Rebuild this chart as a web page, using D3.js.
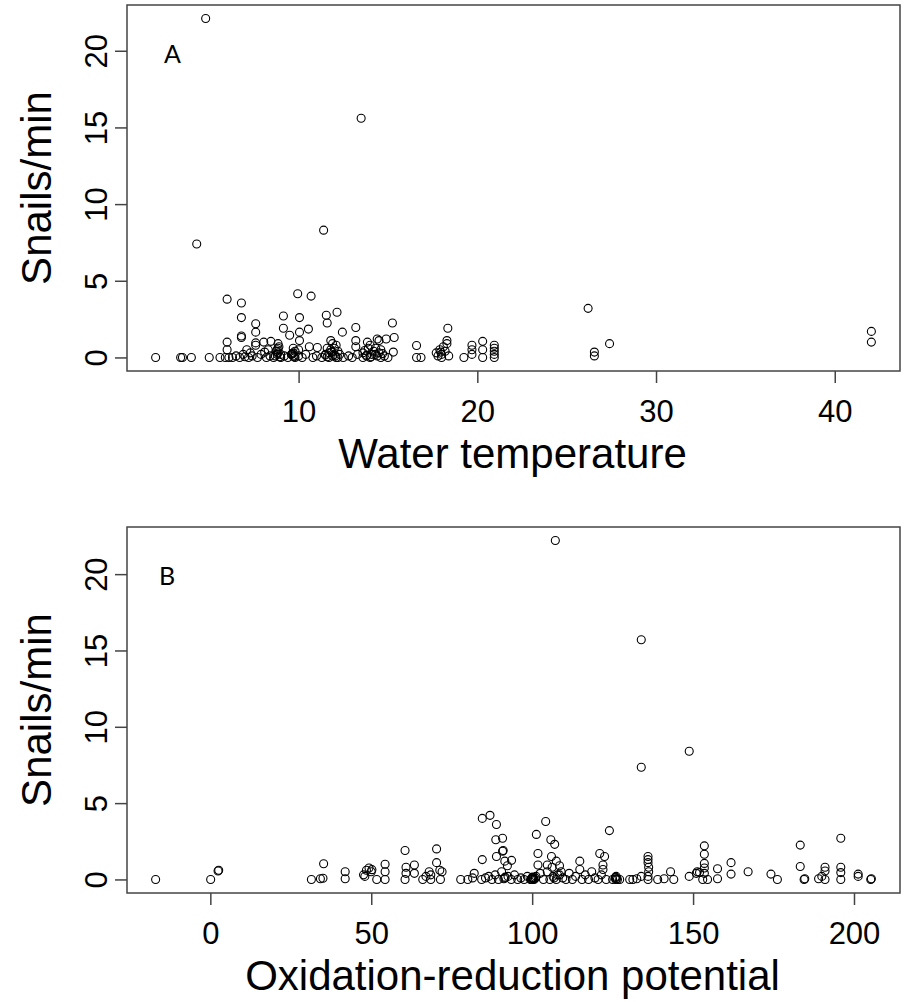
<!DOCTYPE html>
<html>
<head>
<meta charset="utf-8">
<script src="https://cdn.jsdelivr.net/npm/d3@7"></script>
<style>
  body { margin: 0; background: #fff; }
  text { font-family: "Liberation Sans", Arial, sans-serif; fill: #000; }
  .panel-tag { font-family: Lato, "Open Sans", sans-serif; }
</style>
</head>
<body>
<div id="chart"></div>
<script>
// panel A: water temperature vs snails/min
var waterTemp = [
  2.0, 3.4, 3.5, 4.0, 5.0, 5.6, 5.9, 6.1,
  4.8, 4.3, 13.5, 11.4,
  6.0, 6.8, 6.8, 7.6, 7.6, 6.8, 6.8, 6.0, 6.0, 7.6, 7.6, 7.1, 8.05, 8.45, 8.3,
  8.85, 8.85, 8.85, 9.15, 9.15, 9.95, 10.7, 10.05, 10.55, 9.5, 10.05, 10.05,
  9.7, 9.7, 10.6, 11.05, 11.55, 11.6, 12.15, 11.8, 12.45, 13.2, 13.2, 13.2,
  13.85, 14.4, 14.5, 14.9, 15.25, 15.35, 15.3, 11.9, 12.0, 12.2, 11.6, 13.9,
  14.2, 14.6, 14.0,
  6.3, 6.5, 6.7, 6.9, 7.2, 7.4, 7.7, 7.9, 8.2, 8.4, 8.6, 8.8, 9.0, 9.2, 9.4,
  9.6, 9.8, 10.0, 10.2, 10.4, 10.8, 11.0, 11.3, 11.5, 11.7, 11.9, 12.1, 12.3,
  12.5, 12.8, 13.0, 13.3, 13.6, 13.8, 14.0, 14.3, 14.6, 14.8, 15.0,
  8.8, 8.9, 9.0, 8.7, 9.7, 9.8, 9.6, 10.0, 11.7, 12.0, 11.8, 12.1, 11.5,
  13.6, 13.8, 14.1, 14.3, 14.5,
  7.0, 7.3, 8.1, 8.75, 8.95, 9.65, 9.75, 11.6, 11.85, 12.05, 12.2, 13.7, 14.05,
  14.4, 14.7,
  16.6, 16.6, 16.85,
  18.35, 18.3, 18.3, 17.7, 17.8, 17.9, 18.0, 18.1, 18.2, 18.4, 18.0, 17.95,
  19.25, 19.7, 19.7, 19.7, 20.3, 20.3, 20.3,
  20.95, 20.95, 20.95, 20.95, 20.95,
  26.2, 26.55, 26.55, 27.4, 42.05, 42.05
];
var snailsA = [
  0, 0, 0, 0, 0, 0, 0, 0,
  22.1, 7.4, 15.6, 8.3,
  3.8, 3.55, 2.6, 2.2, 1.65, 1.4, 1.3, 1.0, 0.5, 0.95, 0.8, 0.5, 1.0, 1.05, 0.5,
  0.9, 0.6, 0.3, 2.7, 1.9, 4.15, 4.0, 2.6, 1.85, 1.45, 1.65, 1.1,
  0.6, 0.3, 0.7, 0.65, 2.75, 2.25, 2.95, 1.1, 1.65, 1.95, 1.1, 0.7,
  1.0, 1.2, 1.1, 1.2, 2.25, 1.3, 0.35, 0.9, 0.6, 0.4, 0.6, 0.6,
  0.4, 0.5, 0.8,
  0, 0.1, 0, 0.2, 0, 0.1, 0, 0.2, 0, 0.1, 0, 0.2, 0, 0.1, 0,
  0.2, 0, 0.1, 0, 0.2, 0, 0.1, 0, 0.2, 0, 0.1, 0, 0.2,
  0, 0.1, 0, 0.2, 0, 0.1, 0, 0.2, 0, 0.1, 0,
  0.5, 0.7, 0.2, 0.1, 0.1, 0.4, 0.2, 0.5, 0.3, 0.2, 0.5, 0.8, 0.15,
  0.3, 0.15, 0.2, 0.6, 0.3,
  0.05, 0.3, 0.35, 0.4, 0.05, 0.25, 0.05, 0.05, 0.35, 0.1, 0, 0.45, 0.05,
  0.1, 0.25,
  0.78, 0, 0,
  1.9, 1.1, 0.9, 0.3, 0.1, 0.5, 0.2, 0.7, 0.4, 0.1, 0, 0.35,
  0, 0.8, 0.5, 0.2, 1.05, 0.5, 0,
  0.8, 0.6, 0.4, 0.2, 0,
  3.2, 0.35, 0.1, 0.9, 1.7, 1.0
];

// panel B: oxidation-reduction potential vs snails/min
var orp = [
  -17, 0.1, 2.4, 2.6, 31.4, 34.2, 35, 35.2, 41.9, 41.9, 47.6, 48.5, 49.3, 48.0,
  50, 50.2, 51.7, 54.3, 54.3, 54.3, 60.5, 60.8, 60.8, 60.5, 63.4, 63.4, 66, 67,
  68, 68.5, 68.5, 70.3, 70.3, 71.3, 72.0, 71.5, 77.8, 80, 81.5, 82, 84.3,
  84.5, 86.9, 88.9, 88.7, 90.8, 84.5, 88.9, 90.8, 91.0, 91.5, 92.3, 93.6,
  85.5, 86.5, 87.5, 88.5, 89.5, 90.5, 91.5, 92.5, 93.5, 94.5, 95.5, 96.5,
  97.5, 98.5, 99.5, 100, 100.3, 100.6, 101, 100.1, 99.8, 102.5, 103.5,
  100.2, 100.4, 99.9, 101.2, 91.2, 91.6,
  101.3, 101.8, 101.8, 104.2, 105.8, 107, 106, 107.5, 108.5, 109, 104.7, 104.7,
  107.2,
  105.5, 106.5, 107.5, 108.5, 109.5, 110.5, 111.5, 112.5, 113.5, 114.8, 114.8,
  115.5, 116.5, 117.5, 118.5, 119.5, 120.5, 121, 122.5, 122, 122, 121.5, 123,
  124, 125, 126, 126.2, 125.8, 126.5, 127.2, 130.3,
  125.9, 126.1, 106.2, 106.8, 107.9,
  131.3, 132.5, 133.9, 133.9, 133.9, 136, 136, 136, 136.2, 136.2, 136, 136,
  139, 141, 143, 144, 148.8, 148.8, 151.3, 151.0, 152, 153.5, 153.5, 153.5,
  153.5, 153.5, 153.0, 154.5, 157.6, 157.6, 161.8, 161.8, 167.1, 174.2, 176.2,
  183.3, 183.3, 184.5, 184.7, 189, 190, 191, 191, 191, 195.9, 195.9, 195.9,
  195.9, 201.3, 201.3, 205.2, 205.4
];
var snailsB = [
  0, 0, 0.55, 0.6, 0, 0.05, 0.08, 1.03, 0.5, 0.05, 0.3, 0.6, 0.75, 0.2,
  0.5, 0.64, 0, 0, 1.0, 0.5, 1.9, 0.8, 0.4, 0, 0.95, 0.4, 0, 0.2,
  0.5, 0.3, 0, 2.0, 1.1, 0.6, 0.5, 0, 0, 0, 0.1, 0.4, 0,
  4.0, 4.2, 3.6, 2.6, 2.7, 1.3, 1.5, 1.85, 1.9, 1.2, 0.9, 1.25,
  0.1, 0.2, 0, 0.3, 0, 0.5, 0.1, 0.2, 0, 0.3, 0, 0.1,
  0, 0.2, 0, 0, 0.05, 0, 0.1, 0.15, 0, 0.4, 0,
  0.1, 0.05, 0.1, 0.2, 0.05, 0.15,
  2.95, 1.7, 0.95, 3.8, 2.6, 2.3, 1.5, 1.2, 0.9, 0.5, 0.95, 0.5,
  22.2,
  0, 0.2, 0, 0.3, 0.1, 0, 0.4, 0, 0.2, 1.2, 0.65,
  0, 0.3, 0, 0.5, 0.1, 0, 1.7, 1.5, 0.95, 0.65, 0.3, 0,
  3.2, 0, 0, 0.05, 0.1, 0, 0, 0,
  0.15, 0.2, 0.8, 0.1, 0.3,
  0, 0.05, 0.2, 15.7, 7.35, 1.5, 1.3, 1.1, 0.8, 0.5, 0.2, 0,
  0, 0.05, 0.5, 0, 0.2, 8.4, 0.5, 0.4, 0.45, 2.2, 1.65, 1.05,
  0.75, 0.4, 0, 0, 0.7, 0.05, 1.1, 0.35, 0.5, 0.35, 0,
  2.25, 0.85, 0, 0.05, 0.05, 0.2, 0.8, 0.55, 0, 2.7, 0.8, 0.45,
  0, 0.35, 0.2, 0, 0.05
];

var yTicks = [0, 5, 10, 15, 20];
var tempTicks = [10, 20, 30, 40];
var orpTicks = [0, 50, 100, 150, 200];

var W = 906, H = 1002;
var svg = d3.select("#chart").append("svg")
    .attr("width", W)
    .attr("height", H);

// R style axis range: data extent padded by 4%
function rRange(v) {
    var e = d3.extent(v), pad = (e[1] - e[0]) * 0.04;
    return [e[0] - pad, e[1] + pad];
}

var panels = [
    {xs: waterTemp, ys: snailsA, ticks: tempTicks, title: "Water temperature", tag: "A", top: 5},
    {xs: orp, ys: snailsB, ticks: orpTicks, title: "Oxidation-reduction potential", tag: "B", top: 527}
];

var left = 127, right = 900, boxH = 366;

panels.forEach(function(p) {
    var bottom = p.top + boxH;

    var x = d3.scaleLinear().domain(rRange(p.xs)).range([left, right]);
    var y = d3.scaleLinear().domain(rRange(p.ys)).range([bottom, p.top]);

    var g = svg.append("g");

    // points
    g.selectAll("circle")
        .data(p.xs)
        .enter().append("circle")
        .attr("cx", function(d) { return x(d); })
        .attr("cy", function(d, i) { return y(p.ys[i]); })
        .attr("r", 4)
        .attr("fill", "none")
        .attr("stroke", "#000")
        .attr("stroke-width", 1.1);

    // box
    g.append("rect")
        .attr("x", left).attr("y", p.top)
        .attr("width", right - left).attr("height", boxH)
        .attr("fill", "none")
        .attr("stroke", "#444")
        .attr("stroke-width", 1.5);

    // x axis
    var xAxis = g.append("g")
        .attr("transform", "translate(0," + bottom + ")")
        .call(d3.axisBottom(x).tickValues(p.ticks).tickSize(12).tickSizeOuter(0));
    xAxis.select(".domain").remove();
    xAxis.selectAll("line").attr("stroke", "#444").attr("stroke-width", 1.5);
    xAxis.selectAll("text")
        .attr("dy", null).attr("y", 51)
        .style("font-size", "31px");

    // y axis
    var yAxis = g.append("g")
        .attr("transform", "translate(" + left + ",0)")
        .call(d3.axisLeft(y).tickValues(yTicks).tickSize(12).tickSizeOuter(0));
    yAxis.select(".domain").remove();
    yAxis.selectAll("line").attr("stroke", "#444").attr("stroke-width", 1.5);
    yAxis.selectAll("text")
        .attr("x", null).attr("dy", null)
        .attr("text-anchor", "middle")
        .attr("transform", "translate(-20,0) rotate(-90)")
        .style("font-size", "31px");

    // titles
    g.append("text")
        .attr("x", (left + right) / 2 - 1)
        .attr("y", bottom + 97)
        .attr("text-anchor", "middle")
        .style("font-size", "42px")
        .text(p.title);

    g.append("text")
        .attr("transform", "translate(51," + (p.top + boxH / 2) + ") rotate(-90)")
        .attr("text-anchor", "middle")
        .style("font-size", "42px")
        .text("Snails/min");

    g.append("text")
        .attr("class", "panel-tag")
        .attr("x", p.tag === "A" ? 164 : 159)
        .attr("y", p.top + 58)
        .style("font-size", "25px")
        .text(p.tag);
});
</script>
</body>
</html>
